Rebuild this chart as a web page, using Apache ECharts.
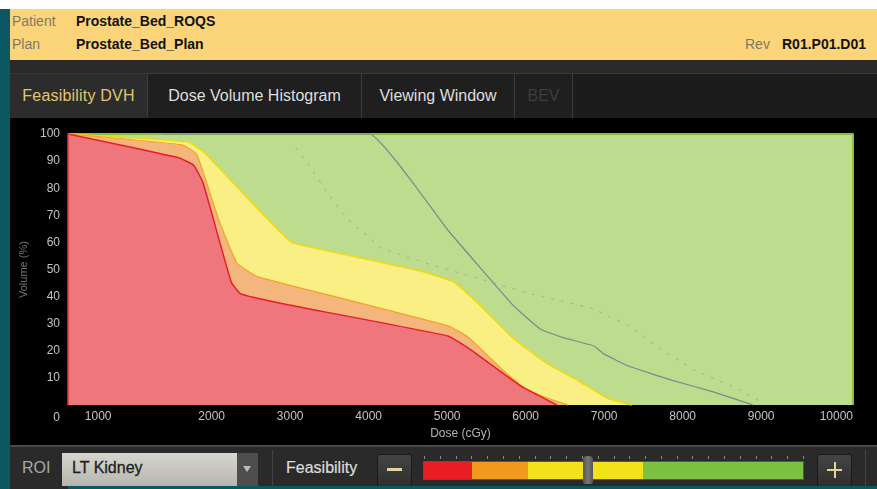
<!DOCTYPE html>
<html><head><meta charset="utf-8">
<script src="https://cdn.jsdelivr.net/npm/echarts/dist/echarts.min.js"></script>
<style>
body{margin:0;width:877px;height:489px;background:#fff;position:relative;overflow:hidden;font-family:'Liberation Sans',Arial,sans-serif;}
.a{position:absolute;}
.hdr{left:10px;top:9px;width:867px;height:51px;background:#fcd57b;}
.lbl{color:#807865;font-size:14px;}
.val{color:#111;font-size:14px;font-weight:bold;}
.tab{top:74px;height:44px;line-height:44px;font-size:16px;text-align:center;border-right:1px solid #3c3c3c;box-sizing:border-box;}
.btn{background:linear-gradient(#444,#2e2e2e);border:1px solid #1a1a1a;border-radius:3px;box-sizing:border-box;}
</style></head>
<body>
<div class="a" style="left:0;top:9px;width:10px;height:480px;background:#0c5862"></div>
<div class="a hdr"></div>
<div class="a lbl" style="left:12px;top:13px">Patient</div>
<div class="a val" style="left:76px;top:13px">Prostate_Bed_ROQS</div>
<div class="a lbl" style="left:12px;top:36px">Plan</div>
<div class="a val" style="left:76px;top:36px">Prostate_Bed_Plan</div>
<div class="a lbl" style="left:745px;top:36px">Rev</div>
<div class="a val" style="left:782px;top:36px">R01.P01.D01</div>
<div class="a" style="left:10px;top:60px;width:867px;height:14px;background:#2a2a2a;border-bottom:1px solid #3a3a3a;box-sizing:border-box"></div>
<div class="a" style="left:10px;top:74px;width:867px;height:44px;background:#1c1c1c"></div>
<div class="a tab" style="left:10px;width:138px;background:#2c2c2c;color:#e6c46c;letter-spacing:0.2px">Feasibility DVH</div>
<div class="a tab" style="left:148px;width:214px;background:#1f1f1f;color:#dedede">Dose Volume Histogram</div>
<div class="a tab" style="left:362px;width:153px;background:#1f1f1f;color:#dedede">Viewing Window</div>
<div class="a tab" style="left:515px;width:58px;background:#1f1f1f;color:#3e3e3e">BEV</div>
<div id="chart" class="a" style="left:10px;top:118px;width:867px;height:327px;background:#000"></div>
<div class="a" style="left:10px;top:445px;width:867px;height:44px;background:#2a2a2a;border-top:2px solid #4a4a4a;box-sizing:border-box"></div>
<div class="a" style="left:22px;top:459px;color:#a8a8a8;font-size:16px">ROI</div>
<div class="a" style="left:62px;top:453px;width:196px;height:33px;background:linear-gradient(#d6d6ce,#b6b6ae)"></div>
<div class="a" style="left:72px;top:459px;color:#1e1e1e;font-size:16px;-webkit-text-stroke:0.3px #1e1e1e">LT Kidney</div>
<div class="a" style="left:237px;top:453px;width:21px;height:33px;background:#4e4e4e"></div>
<div class="a" style="left:243px;top:466px;width:0;height:0;border-left:4px solid transparent;border-right:4px solid transparent;border-top:6px solid #bbb"></div>
<div class="a" style="left:272px;top:450px;width:1px;height:36px;background:#444"></div>
<div class="a" style="left:286px;top:459px;color:#dcdcdc;font-size:16px;-webkit-text-stroke:0.2px #dcdcdc">Feasibility</div>
<div class="a btn" style="left:377px;top:454px;width:35px;height:34px"></div>
<div class="a" style="left:387px;top:468px;width:15px;height:3px;background:#e4d49c"></div>
<div id="ticks"></div>
<div class="a" style="left:423px;top:461px;width:381px;height:19px;background:#555"></div>
<div class="a" style="left:424px;top:462px;width:48px;height:17px;background:#e81e22"></div>
<div class="a" style="left:472px;top:462px;width:56px;height:17px;background:#f29a1e"></div>
<div class="a" style="left:528px;top:462px;width:115px;height:17px;background:#f2e21a"></div>
<div class="a" style="left:643px;top:462px;width:160px;height:17px;background:#7cc242"></div>
<div class="a" style="left:583px;top:456px;width:10px;height:28px;background:linear-gradient(90deg,#555,#777,#555);border-radius:4px 4px 2px 2px"></div>
<div class="a btn" style="left:817px;top:454px;width:35px;height:34px"></div>
<div class="a" style="left:827px;top:469px;width:15px;height:2px;background:#e4d49c"></div>
<div class="a" style="left:834px;top:462px;width:2px;height:16px;background:#e4d49c"></div>
<div class="a" style="left:865px;top:450px;width:1px;height:36px;background:#444"></div>
<div class="a" style="left:68px;top:486px;width:809px;height:3px;background:#0c5862"></div>
<script>
// Dose (cGy) / Volume (%) pairs
var xTicks = [0,1000,2000,3000,4000,5000,6000,7000,8000,9000,10000];
var yTicks = [0,10,20,30,40,50,60,70,80,90,100];
var greenZone = [[0,100],[10000,100],[10000,0]];
var yellowLimit = [[0,100],[1535,97],[1740,93],[2550,68.4],[2850,60],[3050,58.5],[4500,49.4],[4920,45.3],[5260,36.5],[5680,24.4],[6110,15.2],[6500,9],[6870,2.5],[7180,0]];
var orangeLimit = [[0,100],[1450,96],[1640,92.5],[1920,68.4],[2150,52.5],[2400,47.5],[2720,45],[4840,29.2],[5095,25.1],[5500,14],[5860,5.3],[6370,0]];
var redLimit = [[0,100],[1400,91.3],[1600,88.5],[1720,82],[2080,45.3],[2200,41],[2400,39.5],[2800,37],[4840,25.5],[5100,21],[5770,7],[6000,3.5],[6230,0]];
var planDVH = [[1200,100],[3840,100],[4840,64.5],[5680,36.5],[6020,28],[6300,25],[6700,21.8],[6825,18.9],[7130,14.5],[7710,9],[8220,4.9],[8730,0]];
var refDVH = [[2900,95],[3070,88.5],[3290,79],[3520,70],[3990,58],[4600,52],[5200,47],[5900,41],[6660,35.8],[7140,29.2],[7550,20.7],[8020,12.3],[8475,6.8],[8820,1.3]];

// ruler ticks above feasibility bar
(function(){var h='';for(var i=0;i<=24;i++){var x=424+i*(379/24);h+='<div class="a" style="left:'+Math.round(x)+'px;top:456px;width:1px;height:3px;background:#888"></div>';}document.getElementById('ticks').innerHTML=h;})();

var chart = echarts.init(document.getElementById('chart'), null, {renderer:'canvas'});
var font = "'Liberation Sans', Arial, sans-serif";
function area(name, data, fill, line, w, z){
  return {name:name,type:'line',data:data,symbol:'none',smooth:0.12,z:z,
    lineStyle:{color:line,width:w},areaStyle:{color:fill,opacity:1},silent:true};
}
chart.setOption({
  animation:false,
  backgroundColor:'#000',
  grid:{left:56,top:16,width:787,height:272},
  xAxis:{type:'value',min:0,max:10000,interval:1000,
    name:'Dose (cGy)',nameLocation:'middle',nameGap:22,
    nameTextStyle:{color:'#b4b4b4',fontSize:12,fontFamily:font},
    axisLine:{show:false},axisTick:{show:false},splitLine:{show:false},
    axisLabel:{color:'#c4c4c4',fontSize:12,fontFamily:font,align:'right',margin:6,
      formatter:function(v){ if(v===xTicks[0]) return ''; if(v===xTicks[1]) return '{f|'+v+'}'; return String(v); },
      rich:{f:{color:'#c4c4c4',fontSize:12,fontFamily:font,padding:[0,35,0,0]}}}},
  yAxis:{type:'value',min:0,max:100,interval:10,z:5,
    name:'Volume (%)',nameLocation:'middle',nameGap:39,nameRotate:90,
    nameTextStyle:{color:'#767676',fontSize:11,fontFamily:font},
    axisLine:{show:true,lineStyle:{color:'#e8323a',width:1.5}},axisTick:{show:false},splitLine:{show:false},
    axisLabel:{color:'#c4c4c4',fontSize:12,fontFamily:font,margin:8,
      formatter:function(v){ return v===yTicks[0] ? '{z|0}' : String(v); },
      rich:{z:{color:'#c4c4c4',fontSize:12,fontFamily:font,padding:[26,0,0,0]}}}},
  series:[
    {name:'green',type:'line',data:greenZone,symbol:'none',z:1,silent:true,
      lineStyle:{color:'#86c03c',width:2},areaStyle:{color:'#bedc8e',opacity:1}},
    area('yellow',yellowLimit,'#f9ef84','#f0dc0c',1.6,2),
    area('orange',orangeLimit,'#f5b67e','#f3a22a',1.2,3),
    area('red',redLimit,'#f0767e','#e41f26',1.5,4),
    {name:'ref',type:'line',data:refDVH,symbol:'none',smooth:0.1,z:6,silent:true,
      lineStyle:{color:'rgba(100,120,120,0.3)',width:1.2,type:[3,7]}},
    {name:'plan',type:'line',data:planDVH,symbol:'none',smooth:0.1,z:7,silent:true,
      lineStyle:{color:'#7a8a90',width:1.2}}
  ]
});
</script>
</body></html>
